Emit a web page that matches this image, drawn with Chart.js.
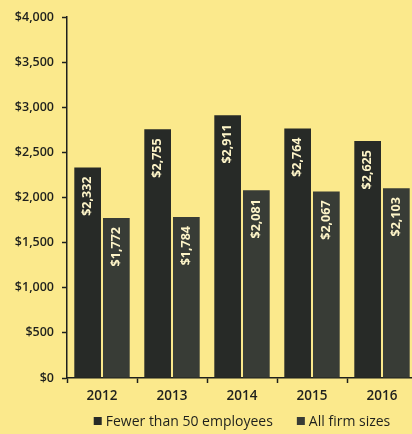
<!DOCTYPE html>
<html>
<head>
<meta charset="utf-8">
<script src="https://cdn.jsdelivr.net/npm/chart.js@4/dist/chart.umd.min.js"></script>
<style>
  html, body { margin: 0; padding: 0; background: #fbe98c; overflow: hidden; }
  #wrap { position: relative; width: 430px; height: 434px; }
</style>
</head>
<body>
<div id="wrap"><canvas id="c" width="430" height="434"></canvas></div>
<script>
// Average premium figures by year
const years = ['2012', '2013', '2014', '2015', '2016'];
const smallFirms = [2332, 2755, 2911, 2764, 2625];
const allFirms = [1772, 1784, 2081, 2067, 2103];
const seriesNames = ['Fewer than 50 employees', 'All firm sizes'];
const yTicks = [0, 500, 1000, 1500, 2000, 2500, 3000, 3500, 4000];

const INK = '#1e201d';
const fmt = v => '$' + v.toLocaleString('en-US');

// Rotated value labels inside the top of each bar
const valueLabels = {
  id: 'valueLabels',
  afterDatasetsDraw(chart) {
    const ctx = chart.ctx;
    ctx.save();
    ctx.font = 'bold 12.5px "Open Sans", sans-serif';
    ctx.fillStyle = '#fdf4c8';
    ctx.textAlign = 'right';
    ctx.textBaseline = 'middle';
    chart.data.datasets.forEach((ds, i) => {
      chart.getDatasetMeta(i).data.forEach((bar, j) => {
        ctx.save();
        ctx.translate(bar.x, bar.y + 9);
        ctx.rotate(-Math.PI / 2);
        ctx.fillText(fmt(ds.data[j]), 0, 0);
        ctx.restore();
      });
    });
    ctx.restore();
  }
};

// Legend row beneath the axis, centred on the plot area
const bottomLegend = {
  id: 'bottomLegend',
  afterDraw(chart) {
    const ctx = chart.ctx;
    const area = chart.chartArea;
    ctx.save();
    ctx.font = '14px "Open Sans", sans-serif';
    ctx.textBaseline = 'middle';
    ctx.textAlign = 'left';
    const box = 8, gapBox = 4, gapItem = 24;
    const widths = seriesNames.map(n => box + gapBox + ctx.measureText(n).width);
    const total = widths[0] + gapItem + widths[1];
    let x = (area.left + area.right) / 2 - total / 2;
    const y = 421;
    chart.data.datasets.forEach((ds, i) => {
      ctx.fillStyle = ds.backgroundColor;
      ctx.fillRect(x, y - box / 2, box, box);
      ctx.fillStyle = INK;
      ctx.fillText(seriesNames[i], x + box + gapBox, y + 1);
      x += widths[i] + gapItem;
    });
    ctx.restore();
  }
};

new Chart(document.getElementById('c'), {
  type: 'bar',
  data: {
    labels: years,
    datasets: [
      { label: seriesNames[0], data: smallFirms, backgroundColor: '#272a27' },
      { label: seriesNames[1], data: allFirms, backgroundColor: '#383c36' }
    ]
  },
  options: {
    responsive: false,
    animation: false,
    devicePixelRatio: 1,
    layout: { padding: { top: 17, left: 0, right: 13, bottom: 24 } },
    datasets: { bar: { categoryPercentage: 0.82, barPercentage: 0.93 } },
    plugins: { legend: { display: false }, tooltip: { enabled: false } },
    scales: {
      x: {
        offset: true,
        afterFit: s => { s.height = 32; },
        border: { display: true, color: INK, width: 1.5 },
        grid: { display: true, drawOnChartArea: false, offset: true, tickLength: 5, color: INK, tickWidth: 1.5 },
        ticks: { color: INK, padding: 5, font: { family: '"Open Sans", sans-serif', size: 13.5, weight: '600' } }
      },
      y: {
        min: 0,
        max: 4000,
        afterFit: s => { s.width = 67; },
        afterBuildTicks: s => { s.ticks = yTicks.map(v => ({ value: v })); },
        border: { display: true, color: INK, width: 1.5 },
        grid: { display: true, drawOnChartArea: false, tickLength: 5, color: INK, tickWidth: 1.5 },
        ticks: { color: INK, padding: 8, callback: v => fmt(v), font: { family: '"Open Sans", sans-serif', size: 12.5, weight: '600' } }
      }
    }
  },
  plugins: [valueLabels, bottomLegend]
});
</script>
</body>
</html>
